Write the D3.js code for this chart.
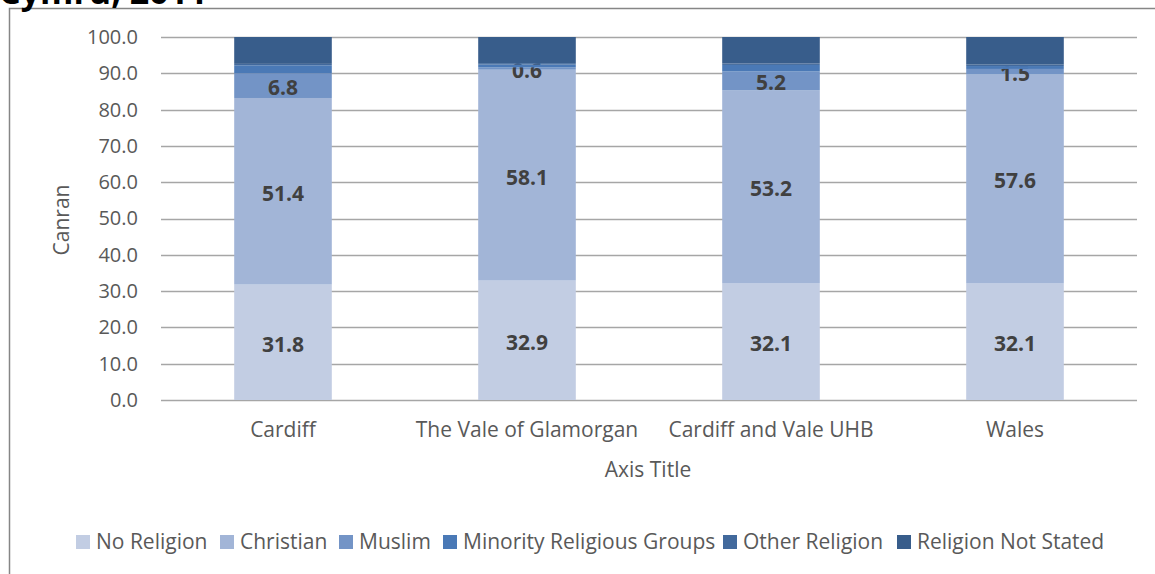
<!DOCTYPE html>
<html>
<head>
<meta charset="utf-8">
<script src="https://cdn.jsdelivr.net/npm/d3@7"></script>
<style>
  body { margin: 0; background: #fff; }
  svg { display: block; }
</style>
</head>
<body>
<script>
// chart data
var areas = ["Cardiff", "The Vale of Glamorgan", "Cardiff and Vale UHB", "Wales"];
var seriesNames = ["No Religion", "Christian", "Muslim", "Minority Religious Groups", "Other Religion", "Religion Not Stated"];
var noReligion = [31.8, 32.9, 32.1, 32.1];
var christian = [51.4, 58.1, 53.2, 57.6];
var muslim = [6.8, 0.6, 5.2, 1.5];
var minority = [2.2, 0.8, 1.8, 0.8];
var otherReligion = [0.4, 0.4, 0.4, 0.4];
var notStated = [7.4, 7.2, 7.3, 7.6];
var yTicks = [0, 10, 20, 30, 40, 50, 60, 70, 80, 90, 100];
var labelledSeries = ["No Religion", "Christian", "Muslim"];

var colors = ["#c2cde3", "#a2b5d7", "#7394c6", "#4a79b6", "#42699c", "#385d8b"];

var width = 1155, height = 574;
var font = "'Open Sans', sans-serif";

var svg = d3.select("body").append("svg")
    .attr("width", width)
    .attr("height", height)
    .style("font-family", font);

// chart frame
svg.append("rect")
    .attr("x", 9.5).attr("y", 8.5)
    .attr("width", 1200).attr("height", 700)
    .attr("fill", "none")
    .attr("stroke", "#868686")
    .attr("stroke-width", 1.5);

// cut-off title
svg.append("text")
    .attr("x", -1).attr("y", 4)
    .attr("font-size", 34).attr("font-weight", "bold")
    .attr("fill", "#000")
    .text("Cymru, 2011");

var table = areas.map(function (a, i) {
    return {
        area: a,
        "No Religion": noReligion[i],
        "Christian": christian[i],
        "Muslim": muslim[i],
        "Minority Religious Groups": minority[i],
        "Other Religion": otherReligion[i],
        "Religion Not Stated": notStated[i]
    };
});

var stack = d3.stack().keys(seriesNames)(table);

var x = d3.scaleBand()
    .domain(areas)
    .range([161, 1137])
    .paddingInner(0.6)
    .paddingOuter(0.3);

var y = d3.scaleLinear()
    .domain([0, 100])
    .range([400, 37]);

// gridlines
svg.append("g")
    .selectAll("line")
    .data(yTicks)
    .enter().append("line")
    .attr("x1", 161).attr("x2", 1137)
    .attr("y1", function (d) { return Math.round(y(d)) + 0.5; })
    .attr("y2", function (d) { return Math.round(y(d)) + 0.5; })
    .attr("stroke", "#a6a6a6")
    .attr("stroke-width", 1.3);

// y axis labels
var yAxis = svg.append("g")
    .attr("transform", "translate(138,0)")
    .call(d3.axisLeft(y).tickValues(yTicks).tickFormat(d3.format(".1f")).tickSize(0).tickPadding(0));
yAxis.select(".domain").remove();
yAxis.selectAll("text")
    .attr("font-size", 20).attr("fill", "#595959")
    .attr("font-family", font);

// x axis labels
var xAxis = svg.append("g")
    .attr("transform", "translate(0,422)")
    .call(d3.axisBottom(x).tickSize(0).tickPadding(0));
xAxis.select(".domain").remove();
xAxis.selectAll("text")
    .attr("font-size", 21).attr("fill", "#595959")
    .attr("font-family", font);

// bars
var layers = svg.selectAll(".layer")
    .data(stack)
    .enter().append("g")
    .attr("class", "layer")
    .attr("fill", function (d, i) { return colors[i]; });

layers.selectAll("rect")
    .data(function (d) { return d; })
    .enter().append("rect")
    .attr("x", function (d) { return x(d.data.area); })
    .attr("width", x.bandwidth())
    .attr("y", function (d) { return y(d[1]); })
    .attr("height", function (d) { return y(d[0]) - y(d[1]); });

// value labels
layers.filter(function (d) { return labelledSeries.indexOf(d.key) >= 0; })
    .selectAll("text")
    .data(function (d) { return d; })
    .enter().append("text")
    .attr("x", function (d) { return x(d.data.area) + x.bandwidth() / 2; })
    .attr("y", function (d) { return y((d[0] + d[1]) / 2) + 2; })
    .attr("dy", "0.36em")
    .attr("text-anchor", "middle")
    .attr("font-size", 21).attr("font-weight", "bold")
    .attr("fill", "#404040")
    .text(function (d) { return (d[1] - d[0]).toFixed(1); });

// axis titles
svg.append("text")
    .attr("transform", "translate(69,220) rotate(-90)")
    .attr("text-anchor", "middle")
    .attr("font-size", 21).attr("fill", "#595959")
    .text("Canran");

svg.append("text")
    .attr("x", 648).attr("y", 477)
    .attr("text-anchor", "middle")
    .attr("font-size", 21).attr("fill", "#595959")
    .text("Axis Title");

// legend
var legendX = [76, 220, 339, 443, 723, 897];
var legend = svg.append("g");
var items = legend.selectAll("g")
    .data(seriesNames)
    .enter().append("g")
    .attr("transform", function (d, i) { return "translate(" + legendX[i] + ",535)"; });
items.append("rect")
    .attr("width", 14).attr("height", 14)
    .attr("fill", function (d, i) { return colors[i]; });
items.append("text")
    .attr("x", 20).attr("y", 14)
    .attr("font-size", 21).attr("fill", "#595959")
    .text(function (d) { return d; });
</script>
</body>
</html>
